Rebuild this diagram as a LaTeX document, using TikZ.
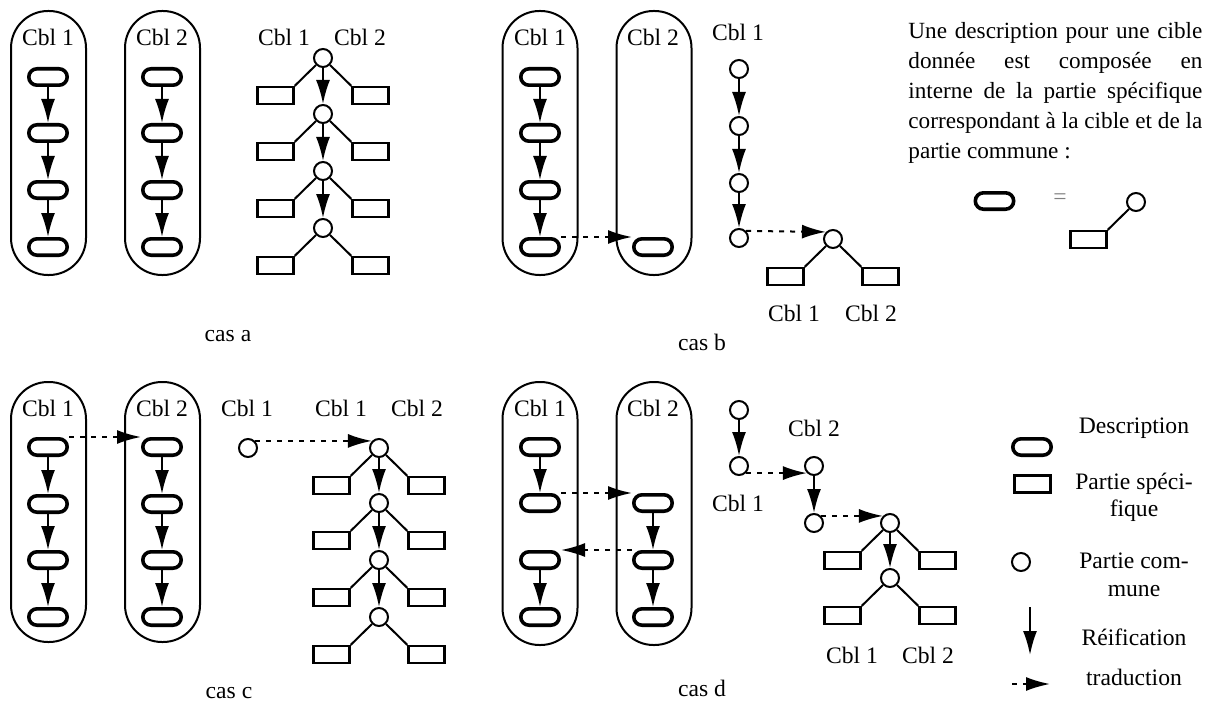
\documentclass[tikz,border=0pt]{standalone}
\usepackage{fontspec}
\setmainfont{Liberation Serif}
\usetikzlibrary{positioning,arrows.meta}

\begin{document}
\begin{tikzpicture}[x=0.5pt, y=-0.5pt, font=\fontsize{11.8}{15}\selectfont,
  >={Latex[length=12pt,width=7pt]}, node distance=10.4pt and 10.6pt,
  cible/.style={draw, line width=1pt, rounded corners=18.5pt, minimum width=37.5pt, minimum height=132pt, inner sep=0pt},
  desc/.style={draw, line width=1.8pt, rounded corners=4.1pt, minimum width=19.2pt, minimum height=8.2pt, inner sep=0pt},
  spec/.style={draw, line width=1.2pt, minimum width=18pt, minimum height=8.5pt, inner sep=0pt},
  comm/.style={draw, circle, line width=1pt, minimum size=9pt, inner sep=0pt},
  reif/.style={->, line width=1pt},
  trad/.style={->, line width=1pt, dash pattern=on 2.5pt off 3pt},
  lien/.style={line width=1pt}]
\useasboundingbox (0,0) rectangle (1205,701);

% cas a
\node[cible] (ka1) at (48.5,143) {};
\node[cible] (ka2) at (162.5,143) {};
\node (la1) at (48,37) {Cbl 1};
\node (la2) at (162,37) {Cbl 2};
\foreach \c/\x in {a1/48, a2/162} {
  \foreach \i/\y in {1/77, 2/133, 3/190, 4/247}
    \node[desc] (\c\i) at (\x,\y) {};
  \foreach \i/\j in {1/2, 2/3, 3/4}
    \draw[reif] (\c\i) -- (\c\j);
}
\foreach \i/\y in {1/58, 2/114, 3/171, 4/228} {
  \node[comm] (ta\i) at (323,\y) {};
  \node[spec, below left=of ta\i] (sga\i) {};
  \node[spec, below right=of ta\i] (sda\i) {};
  \draw[lien] (ta\i.south west) -- (sga\i.north east);
  \draw[lien] (ta\i.south east) -- (sda\i.north west);
}
\foreach \i/\j in {1/2, 2/3, 3/4}
  \draw[reif] (ta\i) -- (ta\j);
\node (lta1) at (284,37) {Cbl 1};
\node (lta2) at (360,37) {Cbl 2};
\node (casa) at (228,336) {cas a};

% cas b
\node[cible] (kb1) at (540,143) {};
\node[cible] (kb2) at (654,143) {};
\node (lb1) at (540,37) {Cbl 1};
\node (lb2) at (653,37) {Cbl 2};
\foreach \i/\y in {1/77, 2/133, 3/190, 4/247}
  \node[desc] (b1\i) at (540,\y) {};
\foreach \i/\j in {1/2, 2/3, 3/4}
  \draw[reif] (b1\i) -- (b1\j);
\node[desc] (b24) at (653,247) {};
\draw[trad] (b14.north east) -- (b24.north west);
\foreach \i/\y in {1/69, 2/126, 3/183, 4/238}
  \node[comm] (cb\i) at (739,\y) {};
\foreach \i/\j in {1/2, 2/3, 3/4}
  \draw[reif] (cb\i) -- (cb\j);
\node (lcb) at (738,32) {Cbl 1};
\node[comm] (tb) at (833,239) {};
\node[spec, below left=of tb] (sgb) {};
\node[spec, below right=of tb] (sdb) {};
\draw[lien] (tb.south west) -- (sgb.north east);
\draw[lien] (tb.south east) -- (sdb.north west);
\draw[trad] (cb4.north east) -- (tb.north west);
\node (ltb1) at (794,313) {Cbl 1};
\node (ltb2) at (871,313) {Cbl 2};
\node (casb) at (702,342) {cas b};

% description d'une cible
\node[anchor=north west, text width=147pt, align=justify, inner sep=0pt,
  font=\fontsize{11.6}{15}\selectfont] (texte) at (908,22)
  {Une description pour une cible\linebreak donnée est composée en\linebreak interne de la partie spécifique\linebreak correspondant à la cible et de la\linebreak partie commune~:};
\node[desc] (eqd) at (994.5,201) {};
\node[text=gray] (egal) at (1060,199) {=};
\node[comm] (eqc) at (1136,202) {};
\node[spec, below left=of eqc] (eqs) {};
\draw[lien] (eqc.south west) -- (eqs.north east);

% cas c
\node[cible, minimum height=130pt] (kc1) at (48.5,512) {};
\node[cible, minimum height=130pt] (kc2) at (162.5,512) {};
\node (lc1) at (48,408) {Cbl 1};
\node (lc2) at (162,408) {Cbl 2};
\foreach \c/\x in {c1/48, c2/162} {
  \foreach \i/\y in {1/447, 2/504, 3/560, 4/617}
    \node[desc] (\c\i) at (\x,\y) {};
  \foreach \i/\j in {1/2, 2/3, 3/4}
    \draw[reif] (\c\i) -- (\c\j);
}
\draw[trad] (c11.north east) -- (c21.north west);
\node[comm] (cc) at (248,448) {};
\node (lcc) at (247,408) {Cbl 1};
\foreach \i/\y in {1/448, 2/503, 3/560, 4/617} {
  \node[comm] (tc\i) at (379,\y) {};
  \node[spec, below left=of tc\i] (sgc\i) {};
  \node[spec, below right=of tc\i] (sdc\i) {};
  \draw[lien] (tc\i.south west) -- (sgc\i.north east);
  \draw[lien] (tc\i.south east) -- (sdc\i.north west);
}
\foreach \i/\j in {1/2, 2/3, 3/4}
  \draw[reif] (tc\i) -- (tc\j);
\draw[trad] (cc.north east) -- (tc1.north west);
\node (ltc1) at (341,408) {Cbl 1};
\node (ltc2) at (417,408) {Cbl 2};
\node (casc) at (229,693) {cas c};

% cas d
\node[cible, minimum height=131.5pt] (kd1) at (540,513.5) {};
\node[cible, minimum height=131.5pt] (kd2) at (654,513.5) {};
\node (ld1) at (540,408) {Cbl 1};
\node (ld2) at (653,408) {Cbl 2};
\foreach \i/\y in {1/447, 2/503, 3/560, 4/617}
  \node[desc] (d1\i) at (540,\y) {};
\foreach \i/\y in {2/503, 3/560, 4/617}
  \node[desc] (d2\i) at (653,\y) {};
\draw[reif] (d11) -- (d12);
\draw[reif] (d13) -- (d14);
\draw[reif] (d22) -- (d23);
\draw[reif] (d23) -- (d24);
\draw[trad] (d12.north east) -- (d22.north west);
\draw[trad] (d23.north west) -- (d13.north east);
\node[comm] (cd1) at (739,410) {};
\node[comm] (cd2) at (739,466) {};
\draw[reif] (cd1) -- (cd2);
\node (lcd1) at (738,503) {Cbl 1};
\node[comm] (ed1) at (814,466) {};
\node[comm] (ed2) at (814,523) {};
\draw[reif] (ed1) -- (ed2);
\node (led) at (814,428) {Cbl 2};
\draw[trad] (cd2.south east) -- (ed1.south west);
\foreach \i/\y in {1/523, 2/578} {
  \node[comm] (td\i) at (890,\y) {};
  \node[spec, below left=of td\i] (sgd\i) {};
  \node[spec, below right=of td\i] (sdd\i) {};
  \draw[lien] (td\i.south west) -- (sgd\i.north east);
  \draw[lien] (td\i.south east) -- (sdd\i.north west);
}
\draw[reif] (td1) -- (td2);
\draw[trad] (ed2.north east) -- (td1.north west);
\node (ltd1) at (852,655) {Cbl 1};
\node (ltd2) at (928,655) {Cbl 2};
\node (casd) at (702,688) {cas d};

% legende
\node[desc] (gd) at (1032,447) {};
\node (lgd) at (1134,428) {Description};
\node[spec] (gs) at (1032.5,484) {};
\node[align=center, font=\fontsize{11.8}{13.5}\selectfont] (lgs) at (1134,497) {Partie spéci-\\fique};
\node[comm] (gc) at (1021,562) {};
\node[align=center, font=\fontsize{11.8}{14}\selectfont] (lgc) at (1134,575) {Partie com-\\mune};
\coordinate (gr0) at (1030,607);
\coordinate (gr1) at (1030,655);
\draw[reif] (gr0) -- (gr1);
\node (lgr) at (1134,637) {Réification};
\coordinate (gt0) at (1012,684);
\coordinate (gt1) at (1050,684);
\draw[trad] (gt0) -- (gt1);
\node (lgt) at (1134,677) {traduction};
\end{tikzpicture}
\end{document}
